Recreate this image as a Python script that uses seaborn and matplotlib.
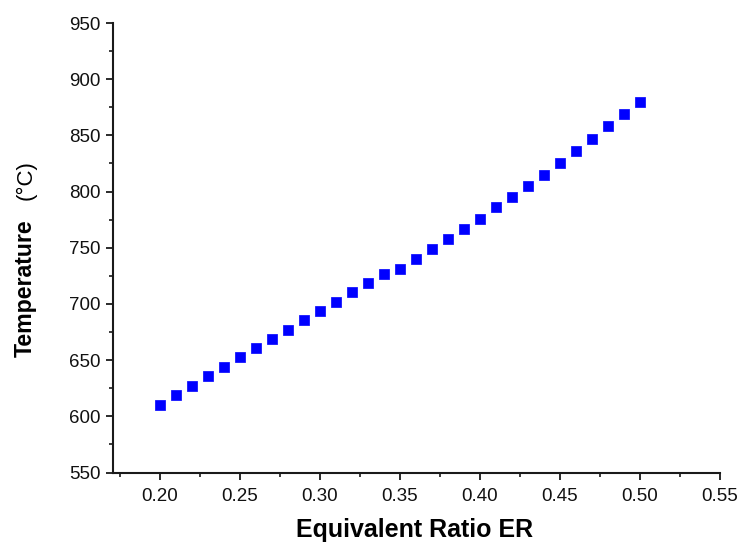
import matplotlib
matplotlib.use("Agg")
import matplotlib.pyplot as plt
import seaborn as sns
import pandas as pd
from matplotlib.ticker import MultipleLocator

er = [0.20, 0.21, 0.22, 0.23, 0.24, 0.25, 0.26, 0.27, 0.28, 0.29, 0.30,
      0.31, 0.32, 0.33, 0.34, 0.35, 0.36, 0.37, 0.38, 0.39, 0.40,
      0.41, 0.42, 0.43, 0.44, 0.45, 0.46, 0.47, 0.48, 0.49, 0.50]
temperature = [610, 619, 627, 636, 644, 653, 661, 669, 677, 686, 694,
               702, 711, 719, 727, 731, 740, 749, 758, 767, 776,
               786, 795, 805, 815, 825, 836, 847, 858, 869, 880]
x_ticks = [0.20, 0.25, 0.30, 0.35, 0.40, 0.45, 0.50, 0.55]
y_ticks = [550, 600, 650, 700, 750, 800, 850, 900, 950]

sns.set_style("ticks")
plt.rcParams['font.family'] = ['Liberation Sans', 'DejaVu Sans']
plt.rcParams['text.color'] = 'black'

df = pd.DataFrame({"ER": er, "T": temperature})

fig = plt.figure(figsize=(7.37, 5.44), dpi=100)
ax = fig.add_axes([113/737, 1 - 472.5/544, (720-113)/737, (472.5-23)/544])

sns.scatterplot(data=df, x="ER", y="T", ax=ax, marker="s", s=58,
                color="#0000ff", edgecolor="#0000ff", linewidth=0.5)

ax.set_xlim(0.1706, 0.55)
ax.set_ylim(550, 950)
ax.set_xticks(x_ticks)
ax.set_xticklabels([f"{v:.2f}" for v in x_ticks])
ax.set_yticks(y_ticks)
ax.set_yticklabels([str(v) for v in y_ticks])
ax.xaxis.set_minor_locator(MultipleLocator(0.025))
ax.yaxis.set_minor_locator(MultipleLocator(25))

ax.tick_params(which="major", direction="out", length=5, width=1.3,
               labelsize=13.5, colors="#1a1a1a", labelcolor="#111111")
ax.tick_params(which="minor", direction="out", length=3, width=1.2,
               colors="#1a1a1a")
ax.tick_params(axis="x", which="major", pad=6)
ax.tick_params(axis="y", which="major", pad=4)

for side in ["top", "right"]:
    ax.spines[side].set_visible(False)
for side in ["left", "bottom"]:
    ax.spines[side].set_linewidth(1.5)
    ax.spines[side].set_color("#1a1a1a")

ax.set_xlabel("")
ax.set_ylabel("")

fig.text(415/737, 1 - 537/544, "Equivalent Ratio ER", fontsize=18,
         fontweight="bold", ha="center", va="baseline", color="black")
fig.text(25/737, 1 - 288/544, "Temperature", rotation=90, fontsize=16.7,
         fontweight="bold", ha="center", va="center", color="black")
fig.text(26/737, 1 - 180/544, "(°C)", rotation=90, fontsize=16,
         ha="center", va="center", color="black")

fig.savefig("out.png", dpi=100)
